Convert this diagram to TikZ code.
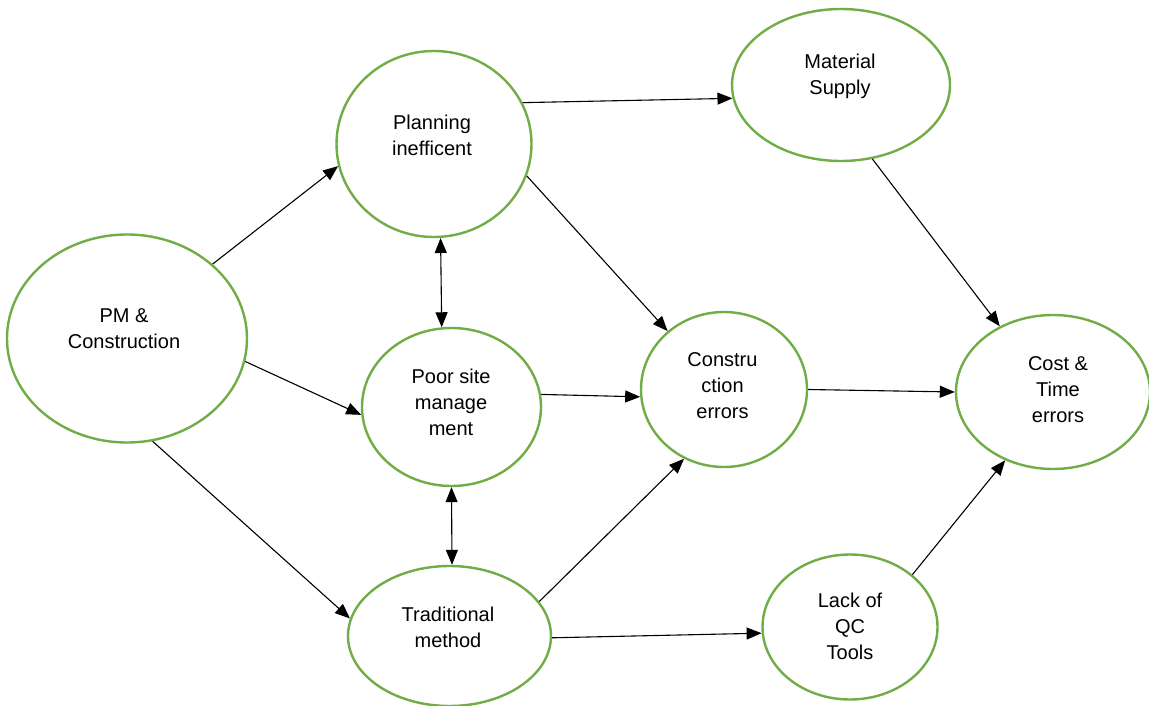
\documentclass[tikz,border=0pt]{standalone}
\usepackage{fontspec}
\setmainfont{Liberation Sans}
\usetikzlibrary{arrows.meta,shapes.geometric}
\definecolor{leaf}{RGB}{112,173,71}
\begin{document}
\begin{tikzpicture}[x=1pt,y=-1pt,
  bubble/.style={ellipse, draw=leaf, line width=2.4pt, inner sep=0pt, fill=white},
  caption/.style={font=\fontsize{20}{26}\selectfont, align=center, inner sep=0pt},
  link/.style={line width=1.1pt, -{Triangle[length=15pt,width=12pt]}},
  twoway/.style={line width=1.1pt, {Triangle[length=15pt,width=12pt]}-{Triangle[length=15pt,width=12pt]}}]
\useasboundingbox (0,0) rectangle (1149,706);

% ellipses
\node[bubble, minimum width=240, minimum height=208] (pm)   at (127,338.5) {};
\node[bubble, minimum width=195, minimum height=186] (plan) at (434,144) {};
\node[bubble, minimum width=218, minimum height=152] (mat)  at (841,85) {};
\node[bubble, minimum width=179, minimum height=158] (poor) at (451.5,407) {};
\node[bubble, minimum width=166, minimum height=155] (cons) at (724,389.5) {};
\node[bubble, minimum width=194, minimum height=154] (cost) at (1053,392) {};
\node[bubble, minimum width=203, minimum height=140] (trad) at (449.5,636) {};
\node[bubble, minimum width=175, minimum height=145] (qc)   at (850,627) {};

% texts
\node[caption] (pmt)   at (124,329)   {PM \&\\Construction};
\node[caption] (plant) at (432,135.5) {Planning\\inefficent};
\node[caption] (matt)  at (840,76.5)  {Material\\Supply};
\node[caption] (poort) at (451,402.5) {Poor site\\manage\\ment};
\node[caption] (const) at (722.5,386) {Constru\\ction\\errors};
\node[caption] (costt) at (1058,390)  {Cost \&\\Time\\errors};
\node[caption] (tradt) at (448,627)   {Traditional\\method};
\node[caption] (qct)   at (850,626.5) {Lack of\\QC\\Tools};

% connectors
\draw[link]   (pm.41)    -- (plan.193);
\draw[link]   (pm.-11)   -- (poor.185);
\draw[link]   (pm.-76)   -- (trad.170);
\draw[twoway] (plan.-86) -- (poor.97);
\draw[link]   (plan.25)  -- (mat.187);
\draw[link]   (plan.-19) -- (cons.134);
\draw[link]   (poor.8)   -- (cons.185.6);
\draw[twoway] (poor.-90) -- (trad.88);
\draw[link]   (trad.21)  -- (cons.240.8);
\draw[link]   (trad.-1)  -- (qc.184);
\draw[link]   (mat.-67)  -- (cost.129);
\draw[link]   (cons.0)   -- (cost.180);
\draw[link]   (qc.40)    -- (cost.235.3);
\end{tikzpicture}
\end{document}
